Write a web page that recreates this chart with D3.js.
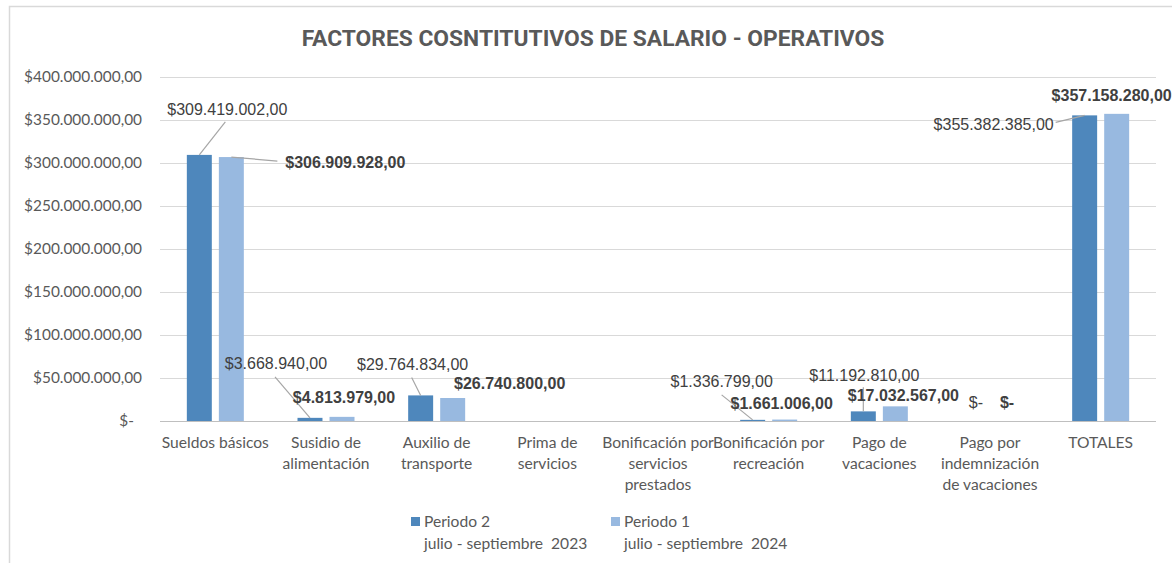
<!DOCTYPE html>
<html lang="es">
<head>
<meta charset="utf-8">
<title>Factores constitutivos de salario - operativos</title>
<style>
  body { margin: 0; background: #fff; }
  svg { display: block; }
</style>
</head>
<body>
<script src="https://cdn.jsdelivr.net/npm/d3@7"></script>
<script>

// data
var categories = [
  "Sueldos básicos",
  "Susidio de\nalimentación",
  "Auxilio de\ntransporte",
  "Prima de\nservicios",
  "Bonificación por\nservicios\nprestados",
  "Bonificación por\nrecreación",
  "Pago de\nvacaciones",
  "Pago por\nindemnización\nde vacaciones",
  "TOTALES"
];
var seriesNames = ["Periodo 2\njulio - septiembre\u00a0 2023", "Periodo 1\njulio - septiembre\u00a0 2024"];
// null = no value shown in the sheet
var periodo2 = [309419002, 3668940, 29764834, null, null, 1336799, 11192810, 0, 355382385];
var periodo1 = [306909928, 4813979, 26740800, null, null, 1661006, 17032567, 0, 357158280];
var yTicks = [0, 50000000, 100000000, 150000000, 200000000, 250000000, 300000000, 350000000, 400000000];

// label placement (text centre and leader start, relative to bar top)
var labelLayout2 = [
  {dx: 28, dy: -45, lx: 26, ly: -33},
  {dx: -34, dy: -54, lx: -35, ly: -41},
  {dx: -8, dy: -31, lx: -9, ly: -18},
  null, null,
  {dx: -31, dy: -38, lx: -31, ly: -25},
  {dx: 1, dy: -36, lx: 0, ly: -24},
  {dx: 2, dy: -19},
  {dx: -91, dy: 9, lx: -29, ly: 7}
];
var labelLayout1 = [
  {dx: 114, dy: 5, lx: 46, ly: 4},
  {dx: 2, dy: -19},
  {dx: 57, dy: -15},
  null, null,
  {dx: -3, dy: -16},
  {dx: 8, dy: -11},
  {dx: 1, dy: -19},
  {dx: -5, dy: -18}
];

var w = 1172, h = 563;
var margin = {top: 77, right: 16, bottom: 142, left: 160};
var colors = ["#4e87bc", "#98b9e0"];

var locale = d3.formatLocale({decimal: ",", thousands: ".", grouping: [3], currency: ["$", ""]});
var fmt = locale.format("$,.2f");
function money(v) { return v === 0 ? "$-" : fmt(v); }

var svg = d3.select("body").append("svg").attr("width", w).attr("height", h);

// chart frame
svg.append("path")
  .attr("d", "M9.5," + h + "V6.5H" + (w + 2))
  .attr("fill", "none").attr("stroke", "#d9d9d9").attr("stroke-width", 1.5);

svg.append("text")
  .attr("x", 593).attr("y", 46)
  .attr("text-anchor", "middle")
  .attr("font-family", "Roboto, sans-serif").attr("font-weight", "bold")
  .attr("font-size", 22.8).attr("fill", "#595959")
  .text("FACTORES COSNTITUTIVOS DE SALARIO - OPERATIVOS");

var x = d3.scaleBand().domain(categories).range([margin.left, w - margin.right]);
var x1 = d3.scaleBand().domain([0, 1])
  .range([x.bandwidth() / 2 - 28.5, x.bandwidth() / 2 + 28.5]).paddingInner(0.22);
var y = d3.scaleLinear().domain([0, 400000000]).range([h - margin.bottom, margin.top]);

// y axis + gridlines
var yAxis = svg.append("g")
  .attr("transform", "translate(" + margin.left + ",0)")
  .call(d3.axisLeft(y).tickValues(yTicks).tickFormat(money)
    .tickSize(-(w - margin.left - margin.right)).tickPadding(18));
yAxis.select(".domain").remove();
yAxis.selectAll(".tick line").attr("stroke", function(d) { return d === 0 ? "#bfbfbf" : "#d9d9d9"; });
yAxis.selectAll(".tick text")
  .attr("font-family", "Lato, sans-serif").attr("font-size", 15.4).attr("fill", "#595959")
  .attr("x", function(d) { return d === 0 ? -26 : -18; });

// bars
var series = [periodo2, periodo1];
series.forEach(function(vals, s) {
  svg.append("g").selectAll("rect")
    .data(categories.map(function(c, i) { return {c: c, v: vals[i]}; }).filter(function(d) { return d.v; }))
    .enter().append("rect")
    .attr("x", function(d) { return x(d.c) + x1(s); })
    .attr("width", x1.bandwidth())
    .attr("y", function(d) { return y(d.v); })
    .attr("height", function(d) { return y(0) - y(d.v); })
    .attr("fill", colors[s]);
});

// data labels with leader lines
var layouts = [labelLayout2, labelLayout1];
series.forEach(function(vals, s) {
  var g = svg.append("g");
  vals.forEach(function(v, i) {
    var lay = layouts[s][i];
    if (v === null || !lay) return;
    var bx = x(categories[i]) + x1(s) + x1.bandwidth() / 2;
    var by = y(v);
    if (lay.lx !== undefined) {
      g.append("line")
        .attr("x1", bx + lay.lx).attr("y1", by + lay.ly)
        .attr("x2", bx).attr("y2", by)
        .attr("stroke", "#a6a6a6").attr("stroke-width", 1.2);
    }
    g.append("text")
      .attr("x", bx + lay.dx).attr("y", by + lay.dy)
      .attr("dy", "0.35em").attr("text-anchor", "middle")
      .attr("font-family", "'Liberation Sans', Arial, sans-serif")
      .attr("font-size", 16)
      .attr("font-weight", s === 1 ? "bold" : "normal")
      .attr("fill", "#404040")
      .text(money(v));
  });
});

// category labels
var xg = svg.append("g").selectAll("text").data(categories).enter().append("text")
  .attr("text-anchor", "middle")
  .attr("font-family", "Lato, sans-serif").attr("font-size", 15.6).attr("fill", "#595959");
xg.each(function(c) {
  var t = d3.select(this);
  c.split("\n").forEach(function(line, k) {
    t.append("tspan")
      .attr("x", x(c) + x.bandwidth() / 2)
      .attr("y", 448 + k * 21)
      .text(line);
  });
});

// legend
var legendX = [411, 611];
seriesNames.forEach(function(name, s) {
  var lg = svg.append("g");
  lg.append("rect").attr("x", legendX[s]).attr("y", 517).attr("width", 9).attr("height", 9).attr("fill", colors[s]);
  var t = lg.append("text")
    .attr("font-family", "Lato, sans-serif").attr("font-size", 15.6).attr("fill", "#595959");
  name.split("\n").forEach(function(line, k) {
    t.append("tspan").attr("x", legendX[s] + 13).attr("y", 527 + k * 22).text(line);
  });
});

</script>
</body>
</html>
